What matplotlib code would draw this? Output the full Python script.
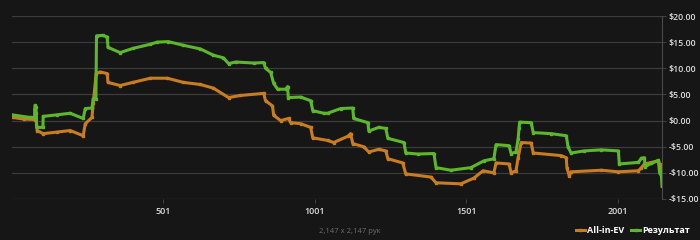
import matplotlib
matplotlib.use("Agg")
import matplotlib.pyplot as plt
from matplotlib.ticker import FuncFormatter

# hand number / value breakpoints
ev_hands = [1, 40, 76, 77, 80, 84, 104, 150, 193, 236, 243, 265, 269, 279, 292, 315,
            318, 358, 400, 458, 514, 567, 623, 666, 716, 755, 832, 838, 861, 865, 888,
            914, 921, 954, 987, 994, 1043, 1063, 1110, 1119, 1126, 1162, 1179, 1212,
            1235, 1242, 1291, 1301, 1384, 1401, 1483, 1526, 1556, 1592, 1599, 1642,
            1649, 1665, 1672, 1682, 1715, 1722, 1814, 1831, 1833, 1841, 1847, 1947,
            2003, 2069, 2079, 2089, 2135, 2139, 2145, 2147]
ev_vals = [0.6, 0.3, 0.2, 2.3, 1.5, -1.9, -2.5, -2.2, -1.9, -2.9, -0.6, 0.6, 3.3, 9.0,
           9.3, 9.0, 7.3, 6.7, 7.3, 8.1, 8.1, 7.3, 6.9, 6.2, 4.4, 4.8, 5.2, 3.8, 2.8,
           1.0, 0.0, 0.4, -0.4, -0.6, -1.3, -3.3, -3.8, -4.2, -3.0, -2.5, -4.4, -5.0,
           -6.0, -5.5, -5.8, -7.3, -8.1, -10.2, -10.8, -11.9, -12.1, -11.0, -9.6, -10.0,
           -8.1, -8.3, -10.0, -9.6, -7.1, -4.2, -4.3, -6.2, -6.7, -7.1, -9.0, -10.6,
           -9.8, -9.5, -9.8, -9.6, -9.0, -8.3, -7.7, -8.3, -9.6, -10.2]

res_hands = [1, 60, 76, 77, 80, 82, 103, 104, 150, 193, 236, 243, 265, 269, 278, 280,
             300, 315, 318, 358, 400, 458, 480, 517, 567, 623, 666, 699, 716, 740, 800,
             832, 838, 855, 865, 878, 905, 911, 913, 954, 987, 994, 1030, 1043, 1086,
             1126, 1129, 1176, 1179, 1212, 1235, 1242, 1295, 1301, 1341, 1394, 1401,
             1450, 1516, 1559, 1592, 1599, 1642, 1649, 1665, 1672, 1675, 1677, 1715,
             1722, 1781, 1831, 1837, 1847, 1890, 1947, 2003, 2006, 2069, 2079, 2089,
             2091, 2112, 2135, 2139, 2145, 2147]
res_vals = [1.1, 0.6, 0.6, 2.9, 2.6, -1.3, -1.3, 0.8, 1.1, 1.4, 0.4, 2.3, 2.4, 4.2,
            4.2, 16.2, 16.3, 16.0, 14.0, 13.0, 13.8, 14.6, 15.0, 15.1, 14.4, 13.7, 12.5,
            12.0, 10.9, 11.2, 11.0, 11.1, 10.0, 9.2, 7.1, 6.0, 6.0, 6.5, 4.4, 4.5, 3.8,
            1.9, 1.4, 1.4, 2.3, 2.4, 0.4, -0.4, -2.0, -1.3, -1.5, -3.4, -4.2, -6.2, -6.4,
            -6.3, -9.0, -9.5, -9.0, -7.7, -7.3, -4.6, -4.8, -6.3, -6.0, -3.5, -1.5, -0.3,
            -0.4, -2.3, -2.5, -2.9, -5.1, -6.2, -5.8, -5.6, -5.8, -8.3, -8.0, -7.2, -7.1,
            -8.8, -8.2, -7.6, -10.0, -10.5, -12.5]

x_ticks = [501, 1001, 1501, 2001]
y_ticks = [-15, -10, -5, 0, 5, 10, 15, 20]
orange = "#c97d1f"
green = "#5cb82a"
bg = "#161616"

plt.rcParams['font.family'] = ['Open Sans', 'DejaVu Sans']

fig = plt.figure(figsize=(7, 2.4), dpi=100, facecolor=bg)
ax = fig.add_axes([12 / 700, 1 - 199 / 240, 650 / 700, 183 / 240], facecolor=bg)

ax.plot(ev_hands, ev_vals, color=orange, lw=2.2, marker='s', ms=1.8, label='All-in-EV')
ax.plot(res_hands, res_vals, color=green, lw=2.2, marker='s', ms=1.8, label='Результат')

ax.set_xlim(1, 2147)
ax.set_ylim(-15, 20)
ax.set_xticks(x_ticks)
ax.set_yticks(y_ticks)
ax.yaxis.tick_right()
ax.yaxis.set_major_formatter(FuncFormatter(
    lambda v, p: ("-$%.2f" % abs(v)) if v < 0 else ("$%.2f" % v)))
ax.grid(axis='y', color='#3c3c3c', lw=0.9)
ax.set_axisbelow(True)
for s in ['top', 'left', 'bottom']:
    ax.spines[s].set_visible(False)
ax.spines['right'].set_color('#4a4a4a')
ax.spines['right'].set_linewidth(0.8)
ax.tick_params(axis='y', colors='#dddddd', labelsize=6.3, length=3, width=0.6,
               pad=1.5, color='#4a4a4a')
ax.tick_params(axis='x', colors='#dddddd', labelsize=6.5, length=3, width=0.6,
               pad=3, color='#4a4a4a')
for lab in ax.get_xticklabels() + ax.get_yticklabels():
    lab.set_fontweight('semibold')

leg = fig.legend(loc='lower right', bbox_to_anchor=(0.998, -0.015), ncol=2, frameon=False,
                 fontsize=6.5, handlelength=1.0, columnspacing=0.7, handletextpad=0.3)
for t in leg.get_texts():
    t.set_color('#ffffff')
    t.set_fontweight('bold')

fig.text(0.5, 0.035, "2,147 x 2,147 рук", ha='center', va='center', color='#6e6e6e',
         fontsize=5.5)

fig.savefig("out.png", dpi=100, facecolor=bg)
